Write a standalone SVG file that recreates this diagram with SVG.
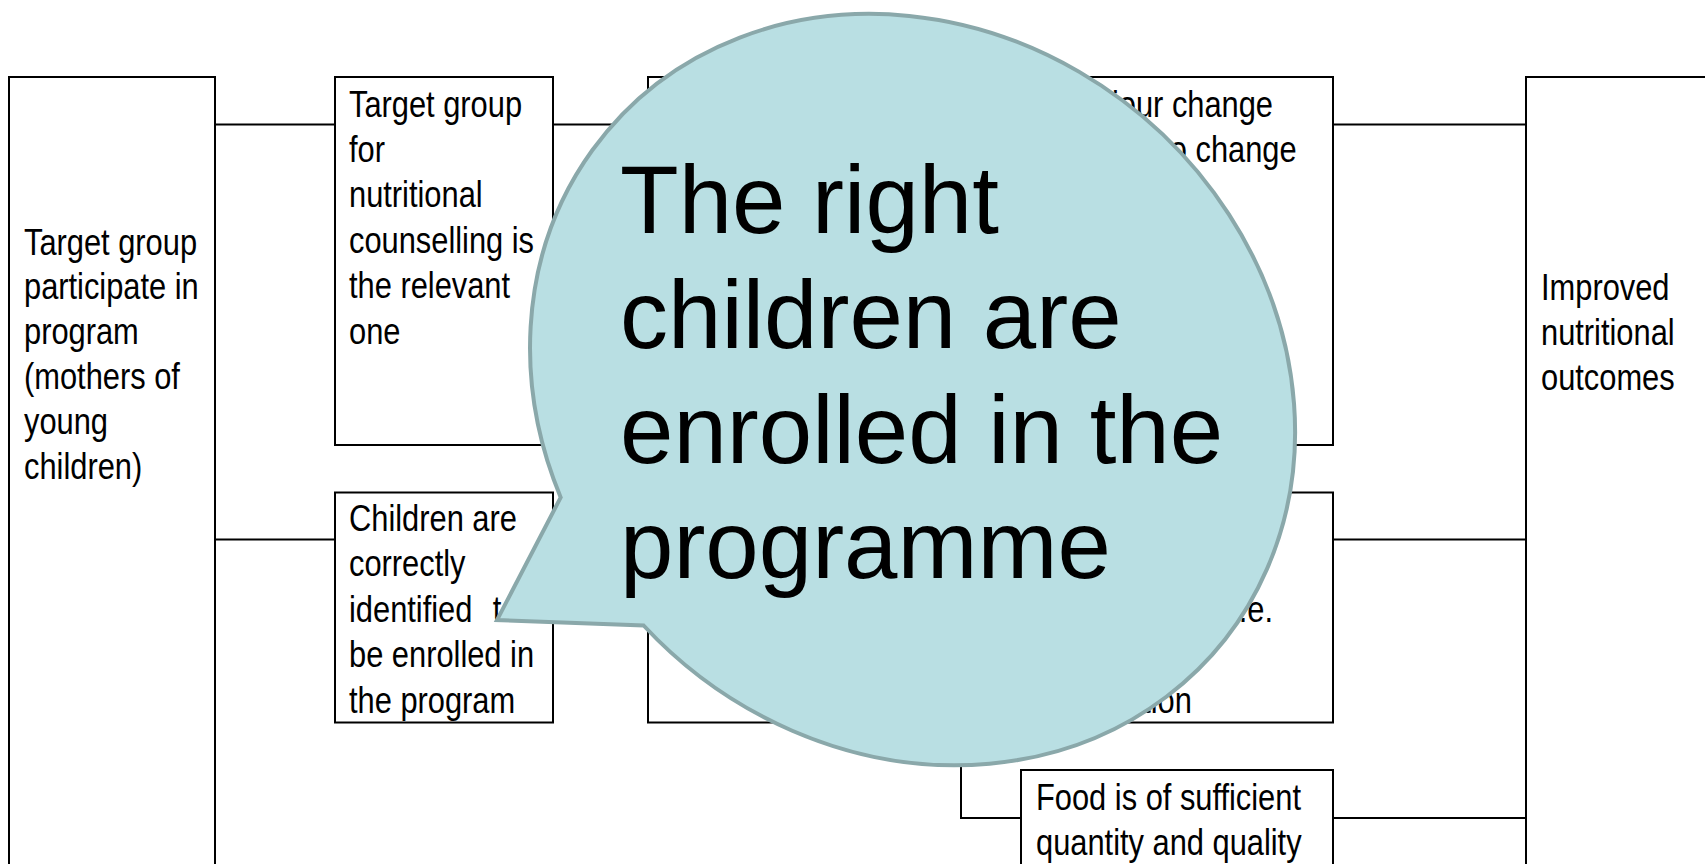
<svg xmlns="http://www.w3.org/2000/svg" width="1705" height="864" viewBox="0 0 1705 864">
<style>
.box{fill:#ffffff;stroke:#000000;stroke-width:2}
.conn{fill:none;stroke:#000000;stroke-width:2}
.t{font-family:'Liberation Sans',Arial,sans-serif;font-size:36.5px;fill:#000000}
.big{font-family:'Liberation Sans',Arial,sans-serif;font-size:96px;fill:#000000}
.bubble{fill:#b9dfe3;stroke:#8aa8aa;stroke-width:4;stroke-linejoin:miter}
</style>
<rect width="1705" height="864" fill="#ffffff"/>
<g id="connectors">
<path class="conn" d="M215,124.5 H335"/>
<path class="conn" d="M215,539.5 H335"/>
<path class="conn" d="M553,124.5 H648"/>
<path class="conn" d="M1333,124.5 H1526"/>
<path class="conn" d="M1333,539.5 H1526"/>
<path class="conn" d="M1333,818 H1526"/>
<path class="conn" d="M961,740 V818 H1021"/>
</g>
<g id="node-participate">
<rect class="box" x="9" y="77" width="206" height="820"/>
<text class="t" transform="translate(24,254.5) scale(0.845,1)"><tspan x="0" y="0">Target group</tspan><tspan x="0" y="45">participate in</tspan><tspan x="0" y="90">program</tspan><tspan x="0" y="135">(mothers of</tspan><tspan x="0" y="180">young</tspan><tspan x="0" y="225">children)</tspan></text>
</g>
<g id="node-target-group">
<rect class="box" x="335" y="77" width="218" height="368"/>
<text class="t" transform="translate(349,116.5) scale(0.845,1)"><tspan x="0" y="0">Target group</tspan><tspan x="0" y="45.5">for</tspan><tspan x="0" y="91">nutritional</tspan><tspan x="0" y="136.5">counselling is</tspan><tspan x="0" y="182">the relevant</tspan><tspan x="0" y="227.5">one</tspan></text>
</g>
<g id="node-children">
<rect class="box" x="335" y="492.5" width="218" height="230"/>
<text class="t" transform="translate(349,531) scale(0.845,1)"><tspan x="0" y="0">Children are</tspan><tspan x="0" y="45.5">correctly</tspan><tspan x="0" y="91">identified</tspan><tspan x="170" y="91">to</tspan><tspan x="0" y="136.5">be enrolled in</tspan><tspan x="0" y="182">the program</tspan></text>
</g>
<g id="node-middle-1">
<rect class="box" x="648" y="77" width="250" height="368"/>
</g>
<g id="node-middle-2">
<rect class="box" x="648" y="492.5" width="250" height="230"/>
</g>
<g id="node-behaviour">
<rect class="box" x="1021" y="77" width="312" height="368"/>
<text class="t" text-anchor="end" transform="translate(1273,116.5) scale(0.845,1)"><tspan x="0" y="0">Behaviour change</tspan><tspan x="28" y="45.5">to change</tspan></text>
</g>
<g id="node-right-2">
<rect class="box" x="1021" y="492.5" width="312" height="230"/>
<text class="t" text-anchor="end" transform="translate(1273,622) scale(0.845,1)"><tspan x="0" y="0">i.e.</tspan><tspan x="-96" y="91.5">tion</tspan></text>
</g>
<g id="node-food">
<rect class="box" x="1021" y="770" width="312" height="120"/>
<text class="t" transform="translate(1036,809.5) scale(0.845,1)"><tspan x="0" y="0">Food is of sufficient</tspan><tspan x="0" y="45.5">quantity and quality</tspan></text>
</g>
<g id="node-outcomes">
<rect class="box" x="1526" y="77" width="200" height="820"/>
<text class="t" transform="translate(1541,299.5) scale(0.845,1)"><tspan x="0" y="0">Improved</tspan><tspan x="0" y="45.5">nutritional</tspan><tspan x="0" y="91">outcomes</tspan></text>
</g>
<g id="callout">
<path class="bubble" d="M560.7,497.4 L497,620 L643.6,625.5 A400,357 40.4 1 0 560.7,497.4 Z"/>
<text class="big"><tspan x="620" y="233">The right</tspan><tspan x="620" y="348">children are</tspan><tspan x="620" y="463">enrolled in the</tspan><tspan x="620" y="578">programme</tspan></text>
</g>
</svg>
